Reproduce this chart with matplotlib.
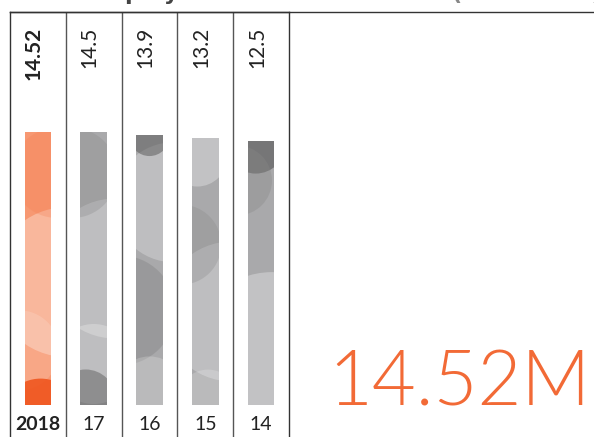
import matplotlib
matplotlib.use("Agg")
import matplotlib.pyplot as plt
from matplotlib.patches import Ellipse
from matplotlib.lines import Line2D
import numpy as np

# ---- data ----
years = ["2018", "17", "16", "15", "14"]
values = [14.52, 14.5, 13.9, 13.2, 12.5]
value_labels = ["14.52", "14.5", "13.9", "13.2", "12.5"]
headline = "14.52M"
title_left = "Total Employees"
title_right = "(in millions)"

FLOOR = -46.8          # visual base of the bars
ORANGE = "#F26A36"

W, H = 594, 437
fig = plt.figure(figsize=(W / 100, H / 100), dpi=100)
ax_left, ax_w = 10, 279
ax_top = 12
ax = fig.add_axes([ax_left / W, 0, ax_w / W, (H - ax_top) / H])
ylo, yhi = -54.0, 41.46
ax.set_xlim(0, len(values))
ax.set_ylim(ylo, yhi)
ax.set_xticks([]); ax.set_yticks([])
for s in ["left", "right", "top"]:
    ax.spines[s].set_color("#333333"); ax.spines[s].set_linewidth(1.0)
ax.spines["bottom"].set_visible(False)
for i in range(1, len(values)):
    ax.axvline(i, color="#555555", lw=1.0)

# top border extends across figure
fig.add_artist(Line2D([ax_left / W, 1.0], [(H - ax_top) / H] * 2,
                      color="#333333", lw=1.0, transform=fig.transFigure))

px_x = ax_w / len(values)                 # px per x unit
px_y = (H - ax_top) / (yhi - ylo)         # px per y unit

x = np.arange(len(values)) + 0.5
bw = 0.48
colors = ["#F79872"] + ["#A9A9AB"] * (len(values) - 1)
bars = ax.bar(x, np.array(values) - FLOOR, bottom=FLOOR, width=bw,
              color=colors, edgecolor="none", zorder=2)

# decorative texture (overlapping translucent circles), clipped to each bar
tex = [
    [(1.6, 0.45, 75, "white", 0.3), (-0.2, 0.2, 40, "white", 0.15), (0.6, -0.05, 40, "#F0561F", 0.9), (1.2, 0.85, 45, "#F47B4E", 0.25)],
    [(1.3, 0.5, 70, "white", 0.25), (0.5, 0.15, 40, "white", 0.25), (0.2, 0.02, 30, "#555555", 0.45), (-0.3, 0.85, 45, "#888888", 0.3)],
    [(1.4, 0.75, 60, "white", 0.25), (-0.6, 0.35, 55, "#777777", 0.3), (0.5, 0.05, 35, "white", 0.2), (0.5, 0.995, 20, "#555555", 0.5)],
    [(1.5, 0.35, 70, "white", 0.25), (0.2, 0.93, 30, "white", 0.3), (-0.4, 0.6, 40, "#888888", 0.3), (0.6, 0.02, 30, "white", 0.2)],
    [(0.9, 0.2, 80, "white", 0.3), (0.3, 0.99, 30, "#555555", 0.6), (-0.4, 0.85, 35, "#888888", 0.35)],
]
for b, v, specs in zip(bars, values, tex):
    x0 = b.get_x(); h = v - FLOOR
    for fx, fy, r, c, a in specs:
        e = Ellipse((x0 + fx * bw, FLOOR + fy * h), 2 * r / px_x, 2 * r / px_y,
                    facecolor=c, alpha=a, edgecolor="none", zorder=3)
        ax.add_patch(e)
        e.set_clip_path(b)

# value labels (rotated, top)
label_y = yhi - 15 / px_y
for i, (xi, lab) in enumerate(zip(x, value_labels)):
    ax.text(xi - 4 / px_x, label_y, lab, rotation=90, ha="center", va="top",
            fontsize=15, color="#222222", family="Lato",
            fontweight=700 if i == 0 else 400)

# year labels (bottom)
year_y = yhi - (430 - ax_top) / px_y
for i, (xi, yr) in enumerate(zip(x, years)):
    ax.text(xi, year_y, yr, ha="center", va="baseline", fontsize=14,
            color="#222222", family="Lato",
            fontweight=700 if i == 0 else 400)

# headline number
fig.text(590 / W, 1 - 405 / H, headline, ha="right", va="baseline",
         fontsize=54.5, color=ORANGE, family="Lato", fontweight=300)

# cut-off title
fig.text(18 / W, 1.0, title_left, ha="left", va="baseline", fontsize=16,
         fontweight="bold", color="#444444")
fig.text(452 / W, 1.0, title_right, ha="left", va="baseline", fontsize=16,
         fontweight="bold", color="#888888")

fig.savefig("out.png", dpi=100)
